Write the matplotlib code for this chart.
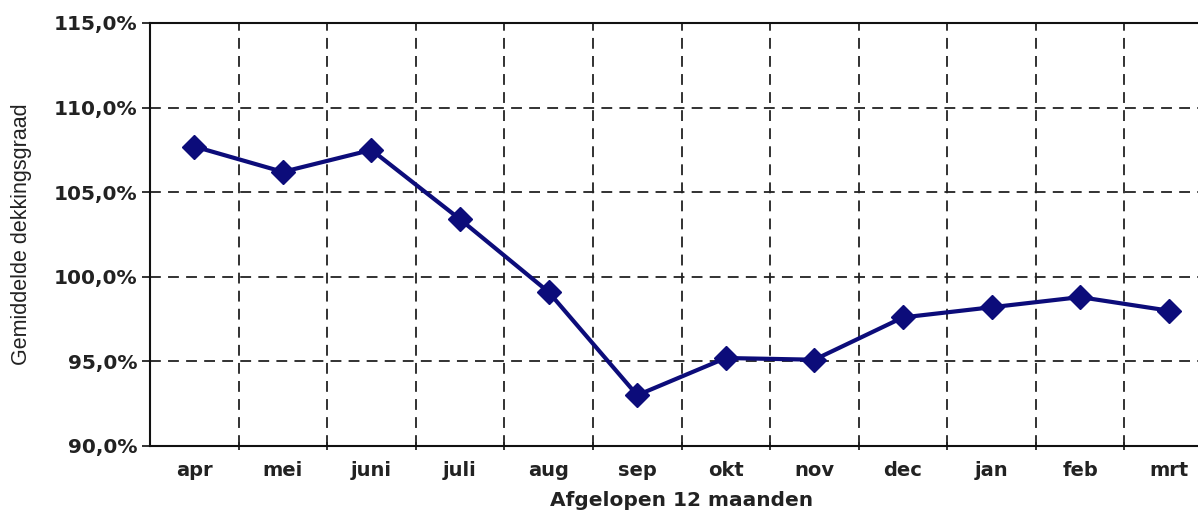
import matplotlib.pyplot as plt
from matplotlib.ticker import FixedLocator, NullFormatter

# data
months = ['apr', 'mei', 'juni', 'juli', 'aug', 'sep', 'okt', 'nov', 'dec', 'jan', 'feb', 'mrt']
dekkingsgraad = [107.7, 106.2, 107.5, 103.4, 99.1, 93.0, 95.2, 95.1, 97.6, 98.2, 98.8, 98.0]
y_ticks = [90, 95, 100, 105, 110, 115]

fig = plt.figure(figsize=(11.98, 5.15), dpi=100)
ax = fig.add_axes([150 / 1198, 1 - 446 / 515, 1063 / 1198, 423 / 515])

x = list(range(len(months)))
ax.plot(x, dekkingsgraad, color='#0c0c7a', linewidth=3, marker='D',
        markersize=12, markerfacecolor='#0c0c7a', markeredgecolor='#0c0c7a',
        zorder=3, clip_on=False)

ax.set_xlim(-0.5, len(months) - 0.5)
ax.set_ylim(90, 115)

# category labels in the middle, tick marks / grid on the boundaries
ax.set_xticks(x)
ax.set_xticklabels(months, fontsize=14, fontweight='bold', color='#222222',
                   family='DejaVu Sans')
ax.tick_params(axis='x', which='major', length=0, pad=11)
ax.xaxis.set_minor_locator(FixedLocator([i + 0.5 for i in range(len(months) - 1)]))
ax.xaxis.set_minor_formatter(NullFormatter())
ax.tick_params(axis='x', which='minor', length=6, width=1.3, direction='inout', color='#222222')

ax.set_yticks(y_ticks)
ax.set_yticklabels([f'{v:.1f}%'.replace('.', ',') for v in y_ticks], fontsize=14.5,
                   fontweight='bold', color='#222222', family='DejaVu Sans')
ax.tick_params(axis='y', length=6, width=1.3, direction='out', color='#222222', pad=3)

ax.grid(axis='x', which='minor', linestyle=(0, (6, 4)), color='#222222', linewidth=1.3)
ax.grid(axis='y', which='major', linestyle=(0, (6, 4)), color='#222222', linewidth=1.3)
ax.set_axisbelow(True)

for side in ['top', 'bottom', 'left']:
    ax.spines[side].set_linewidth(1.5)
    ax.spines[side].set_color('#111111')
ax.spines['right'].set_visible(False)

ax.set_ylabel('Gemiddelde dekkingsgraad', fontsize=15.5, family='Liberation Sans',
              color='#222222', labelpad=16)
ax.set_xlabel('Afgelopen 12 maanden', fontsize=14.5, fontweight='bold', family='DejaVu Sans',
              color='#222222', labelpad=8)

fig.savefig('out.png', dpi=100)
